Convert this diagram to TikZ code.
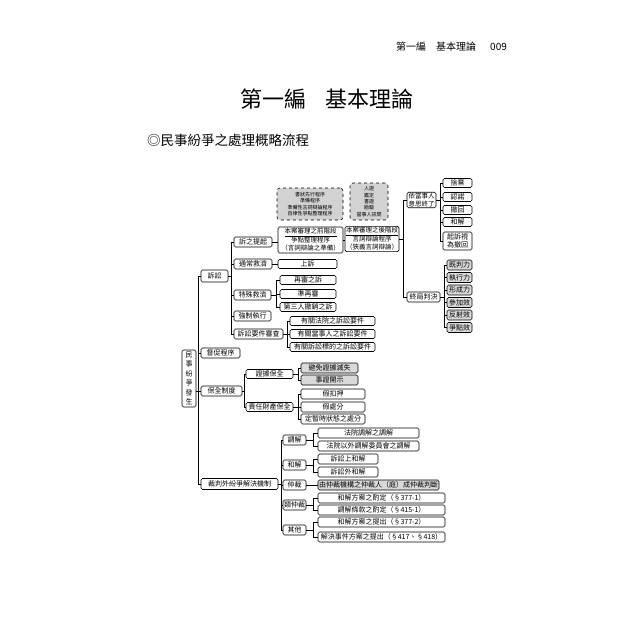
\documentclass[tikz,border=0pt]{standalone}
\usepackage{fontspec}
\setmainfont{Noto Sans CJK TC}
\newcommand\mylink[3]{\draw[conn] (#1.east) -| ([xshift=-#3pt]#2.west) -- (#2.west);}
\begin{document}
\begin{tikzpicture}[x=1pt,y=-1pt,
 bx/.style={draw, rounded corners=1.5pt, line width=0.6pt, inner sep=1pt, outer sep=0pt, anchor=west, align=center, font=\fontsize{7}{8}\selectfont, minimum height=10pt},
 gbx/.style={bx, fill=gray!30},
 dbx/.style={draw, dashed, rounded corners=3pt, fill=gray!35, line width=0.6pt, inner sep=1pt, outer sep=0pt, align=center, font=\fontsize{5}{6.3}\selectfont},
 conn/.style={line width=0.5pt},
 txt/.style={anchor=west, inner sep=0pt}]
\useasboundingbox (0,0) rectangle (640,640);
% header and titles
\node[txt, font=\fontsize{10}{12}\selectfont] (h1) at (396,47) {第一編};
\node[txt, font=\fontsize{10}{12}\selectfont] (h2) at (436,47) {基本理論};
\node[txt, font=\fontsize{10}{12}\selectfont] (h3) at (490,47) {009};
\node[txt, font=\fontsize{22}{26}\selectfont] (t1) at (240,99) {第一編};
\node[txt, font=\fontsize{22}{26}\selectfont] (t2) at (325,99) {基本理論};
\node[txt, font=\fontsize{13.5}{16}\selectfont] (st) at (147,140) {◎民事紛爭之處理概略流程};
% root
\node[bx, anchor=center, minimum width=14pt, minimum height=57pt, font=\fontsize{7}{9.5}\selectfont] (root) at (189,378.5) {民\\事\\紛\\爭\\發\\生};
% level 1
\node[bx, minimum width=27pt, minimum height=12pt] (ss) at (201,276) {訴訟};
\node[bx, minimum width=39pt] (dc) at (201,353) {督促程序};
\node[bx, minimum width=41pt] (bq) at (201,391) {保全制度};
\node[bx, minimum width=77pt, minimum height=11pt] (cp) at (201,484) {裁判外紛爭解決機制};
\coordinate (rj) at (root.east |- bq.west);
\foreach \c in {ss,dc,bq,cp} {\draw[conn] (rj) -| ([xshift=-3pt]\c.west) -- (\c.west);}
% level 2 under 訴訟
\node[bx, minimum width=38pt] (tq) at (234,242) {訴之提起};
\node[bx, minimum width=38pt] (tc) at (234,264) {通常救濟};
\node[bx, minimum width=37pt] (ts) at (234,295) {特殊救濟};
\node[bx, minimum width=37pt] (qz) at (234,316) {強制執行};
\node[bx, minimum width=49pt] (yj) at (234,334) {訴訟要件審查};
\foreach \c in {tq,tc,ts,qz,yj} {\mylink{ss}{\c}{3}}
% trial stages
\node[bx, minimum width=65pt, minimum height=26pt, font=\fontsize{6.5}{8}\selectfont] (qa) at (278,240) {\underline{本案審理之前階段}\\爭點整理程序\\（言詞辯論之準備）};
\node[bx, minimum width=53pt, minimum height=24pt, font=\fontsize{6.5}{8}\selectfont] (qb) at (345,239) {\underline{本案審理之後階段}\\言詞辯論程序\\（狹義言詞辯論）};
\draw[conn] (tq.east) -- (tq.east -| qa.west);
\draw[conn] (qa.east) -- (qa.east -| qb.west);
\node[dbx, anchor=center, minimum width=66pt, minimum height=32pt] (da) at (310,204) {書狀先行程序\\準備程序\\準備性言詞辯論程序\\自律性爭點整理程序};
\node[dbx, anchor=center, minimum width=38pt, minimum height=37pt] (db) at (369,201.5) {人證\\鑑定\\書證\\勘驗\\當事人訊問};
% end of trial
\node[bx, minimum width=29pt, minimum height=15pt, font=\fontsize{6.5}{7.5}\selectfont] (yd) at (407,200) {依當事人\\意思終了};
\node[bx, minimum width=33pt] (zj) at (407,297) {終局判決};
\mylink{qb}{yd}{4}
\mylink{qb}{zj}{4}
\node[bx, minimum width=29pt, minimum height=9pt] (e1) at (443,183) {捨棄};
\node[bx, minimum width=29pt, minimum height=9pt] (e2) at (443,197) {認諾};
\node[bx, minimum width=29pt, minimum height=9pt] (e3) at (443,210) {撤回};
\node[bx, minimum width=29pt, minimum height=9pt] (e4) at (443,222) {和解};
\node[bx, minimum width=29pt, minimum height=18pt] (e5) at (443,241) {起訴視\\為撤回};
\foreach \c in {e1,e2,e3,e4,e5} {\mylink{yd}{\c}{3}}
\node[gbx, minimum width=25pt] (f1) at (447,265) {既判力};
\node[gbx, minimum width=25pt] (f2) at (447,277.5) {執行力};
\node[gbx, minimum width=25pt] (f3) at (447,290) {形成力};
\node[gbx, minimum width=25pt] (f4) at (447,302.5) {參加效};
\node[gbx, minimum width=25pt] (f5) at (447,315) {反射效};
\node[gbx, minimum width=25pt] (f6) at (447,327.5) {爭點效};
\foreach \c in {f1,f2,f3,f4,f5,f6} {\mylink{zj}{\c}{3}}
% remedies
\node[bx, minimum width=59pt, minimum height=9pt] (su) at (278,264) {上訴};
\draw[conn] (tc.east) -- (su.west);
\node[bx, minimum width=56pt, minimum height=9pt] (r1) at (280,280) {再審之訴};
\node[bx, minimum width=56pt, minimum height=9pt] (r2) at (280,294) {準再審};
\node[bx, minimum width=56pt, minimum height=9pt] (r3) at (280,307) {第三人撤銷之訴};
\foreach \c in {r1,r2,r3} {\mylink{ts}{\c}{4}}
\node[bx, minimum width=85pt, minimum height=9pt] (y1) at (290,321) {有關法院之訴訟要件};
\node[bx, minimum width=85pt, minimum height=9pt] (y2) at (290,334) {有關當事人之訴訟要件};
\node[bx, minimum width=85pt, minimum height=9pt] (y3) at (290,347) {有關訴訟標的之訴訟要件};
\foreach \c in {y1,y2,y3} {\mylink{yj}{\c}{3}}
% preservation
\node[bx, minimum width=47pt, minimum height=9pt] (zb) at (246,374) {證據保全};
\node[bx, minimum width=47pt, minimum height=9pt] (zc) at (246,407) {責任財產保全};
\foreach \c in {zb,zc} {\mylink{bq}{\c}{2}}
\node[gbx, minimum width=57pt] (g1) at (301,368) {避免證據滅失};
\node[gbx, minimum width=57pt] (g2) at (301,380) {事證開示};
\foreach \c in {g1,g2} {\mylink{zb}{\c}{3}}
\node[bx, minimum width=64pt] (k1) at (301,394) {假扣押};
\node[bx, minimum width=64pt] (k2) at (301,407) {假處分};
\node[bx, minimum width=64pt] (k3) at (301,419) {定暫時狀態之處分};
\foreach \c in {k1,k2,k3} {\mylink{zc}{\c}{3}}
% ADR
\node[bx, minimum width=23pt] (m1) at (283,440) {調解};
\node[bx, minimum width=23pt] (m2) at (283,465) {和解};
\node[bx, minimum width=23pt] (m3) at (283,485) {仲裁};
\node[bx, minimum width=23pt] (m4) at (283,505) {類仲裁};
\node[bx, minimum width=23pt] (m5) at (283,530) {其他};
\foreach \c in {m1,m2,m3,m4,m5} {\mylink{cp}{\c}{2}}
\node[bx, minimum width=101pt] (n1) at (318,433) {法院調解之調解};
\node[bx, minimum width=101pt] (n2) at (318,446) {法院以外調解委員會之調解};
\foreach \c in {n1,n2} {\mylink{m1}{\c}{5}}
\node[bx, minimum width=60pt] (n3) at (318,459) {訴訟上和解};
\node[bx, minimum width=60pt] (n4) at (318,472) {訴訟外和解};
\foreach \c in {n3,n4} {\mylink{m2}{\c}{5}}
\node[gbx, minimum width=115pt] (n5) at (318,485) {由仲裁機構之仲裁人（庭）成仲裁判斷};
\draw[conn] (m3.east) -- (n5.west);
\node[bx, minimum width=127pt] (n6) at (318,498) {和解方案之酌定（§377-1）};
\node[bx, minimum width=127pt] (n7) at (318,510) {調解條款之酌定（§415-1）};
\foreach \c in {n6,n7} {\mylink{m4}{\c}{5}}
\node[bx, minimum width=127pt] (n8) at (318,522) {和解方案之提出（§377-2）};
\node[bx, minimum width=127pt] (n9) at (318,537) {解決事件方案之提出（§417、§418）};
\foreach \c in {n8,n9} {\mylink{m5}{\c}{5}}
\end{tikzpicture}
\end{document}
